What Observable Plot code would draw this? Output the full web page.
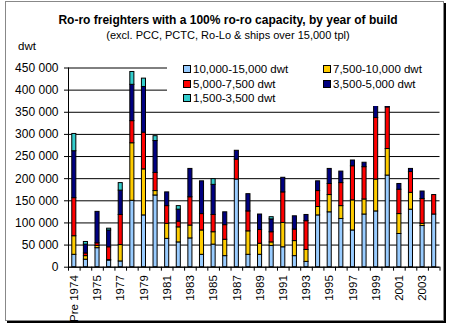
<!DOCTYPE html>
<html><head><meta charset="utf-8">
<script src="https://cdn.jsdelivr.net/npm/d3@7"></script>
<script src="https://cdn.jsdelivr.net/npm/@observablehq/plot@0.6"></script>
<style>
body{margin:0;background:#fff;font-family:"Liberation Sans",Arial,sans-serif;color:#000;}
#wrap{position:relative;width:452px;height:328px;overflow:hidden;background:#fff;}
#frame{position:absolute;left:5px;top:1px;width:437px;height:318px;border:1px solid #888;box-shadow:2px 2px 0 #000;}
#chart{position:absolute;left:0;top:0;}
.t{position:absolute;white-space:nowrap;}
#title{left:2px;width:452px;text-align:center;top:13px;font-size:12px;font-weight:bold;}
#sub{left:2px;width:452px;text-align:center;top:29px;font-size:11px;}
#dwt{left:18px;top:40px;font-size:11.5px;}
#legend{position:absolute;left:167px;top:60px;width:273px;height:46px;background:#fff;}
.li{position:absolute;font-size:11.5px;line-height:14px;}
.sw{display:inline-block;width:6px;height:6px;border:1px solid #000;margin-right:2px;vertical-align:0px;}
</style></head>
<body><div id="wrap"><div id="frame"></div>
<div id="chart"></div>
<div class="t" id="title">Ro-ro freighters with a 100% ro-ro capacity, by year of build</div>
<div class="t" id="sub">(excl. PCC, PCTC, Ro-Lo &amp; ships over 15,000 tpl)</div>
<div class="t" id="dwt">dwt</div>
<div id="legend"></div>
</div>
<script>
const categories = ["Pre 1974","1974","1975","1976","1977","1978","1979","1980","1981","1982","1983","1984","1985","1986","1987","1988","1989","1990","1991","1992","1993","1994","1995","1996","1997","1998","1999","2000","2001","2002","2003","2004"];
const labeledCats = ["Pre 1974","1975","1977","1979","1981","1983","1985","1987","1989","1991","1993","1995","1997","1999","2001","2003"];
const seriesNames = ["10,000-15,000 dwt","7,500-10,000 dwt","5,000-7,500 dwt","3,500-5,000 dwt","1,500-3,500 dwt"];
const seriesColors = ["#99CCFF","#FFCC00","#FF0000","#000080","#33CCCC"];
// values in thousand dwt
const s10to15 = [28,17,43,15,13,150,117,162,64,56,65,28,51,25,198,28,28,48,45,25,12,117,124,109,83,119,126,207,75,130,93,119];
const s75to10 = [42,8,5,1,37,130,104,10,34,34,29,55,28,37,0,53,25,8,55,34,27,19,39,29,68,34,72,60,45,38,5,0];
const s5to75  = [86,6,6,29,68,50,83,41,40,13,64,37,39,33,45,45,31,23,69,26,65,36,25,52,77,73,139,94,55,47,56,44];
const s35to5  = [106,20,71,38,55,82,103,72,31,27,64,74,68,29,20,39,35,29,33,30,14,22,34,26,13,10,32,18,13,7,17,0];
const s15to35 = [39,6,0,4,17,29,19,11,0,8,0,0,13,0,0,0,0,5,0,0,0,0,0,0,0,0,4,0,0,0,0,0];
const yTicks = [0,50000,100000,150000,200000,250000,300000,350000,400000,450000];

const allSeries = [s10to15,s75to10,s5to75,s35to5,s15to35];
const data = [];
categories.forEach((c,i)=>{
  allSeries.forEach((s,j)=>{ if (s[i]>0) data.push({cat:c, series:seriesNames[j], value:s[i]*1000}); });
});

const W=452,H=328,mL=68,mR=12.5,mT=67.5,mB=61.3;
const step=(W-mL-mR)/categories.length;
const fmt = d => d3.format(",")(d).replace(/,/g," ");

const chart = Plot.plot({
  width:W, height:H, marginTop:mT, marginBottom:mB, marginLeft:mL, marginRight:mR,
  style:{fontFamily:'"Liberation Sans",Arial,sans-serif', fontSize:"12px", color:"#000", background:"transparent", overflow:"visible"},
  x:{domain:categories, paddingInner:0.65, paddingOuter:0.325, round:false, label:null},
  y:{domain:[0,450000], label:null},
  color:{domain:seriesNames, range:seriesColors},
  marks:[
    Plot.gridY(yTicks,{stroke:"#000", strokeOpacity:1}),
    Plot.axisY(yTicks,{tickSize:4, tickPadding:6, tickFormat:fmt, fontSize:12, label:null}),
    Plot.barY(data,{x:"cat", y:"value", fill:"series", stroke:"#000", strokeWidth:1}),
    Plot.ruleY([0],{stroke:"#000"}),
    Plot.frame({anchor:"left", stroke:"#000"}),
    Plot.axisX(categories,{tickSize:4, text:null, dx:-step/2, label:null}),
    Plot.axisX([categories[categories.length-1]],{tickSize:4, text:null, dx:step/2, label:null}),
    Plot.axisX(labeledCats,{tickSize:0, tickRotate:-90, textAnchor:"end", lineAnchor:"middle", tickPadding:8, fontSize:11.5, label:null})
  ]
});
document.getElementById("chart").appendChild(chart);

// legend
const lg = document.getElementById("legend");
const pos = [[16,2],[156,2],[16,17],[156,17],[16,31]];
[0,1,2,3,4].forEach((k,i)=>{
  const el=document.createElement("div");
  el.className="li";
  el.style.left=pos[i][0]+"px"; el.style.top=pos[i][1]+"px";
  el.innerHTML=`<span class="sw" style="background:${seriesColors[k]}"></span>${seriesNames[k]}`;
  lg.appendChild(el);
});
</script>
</body></html>
